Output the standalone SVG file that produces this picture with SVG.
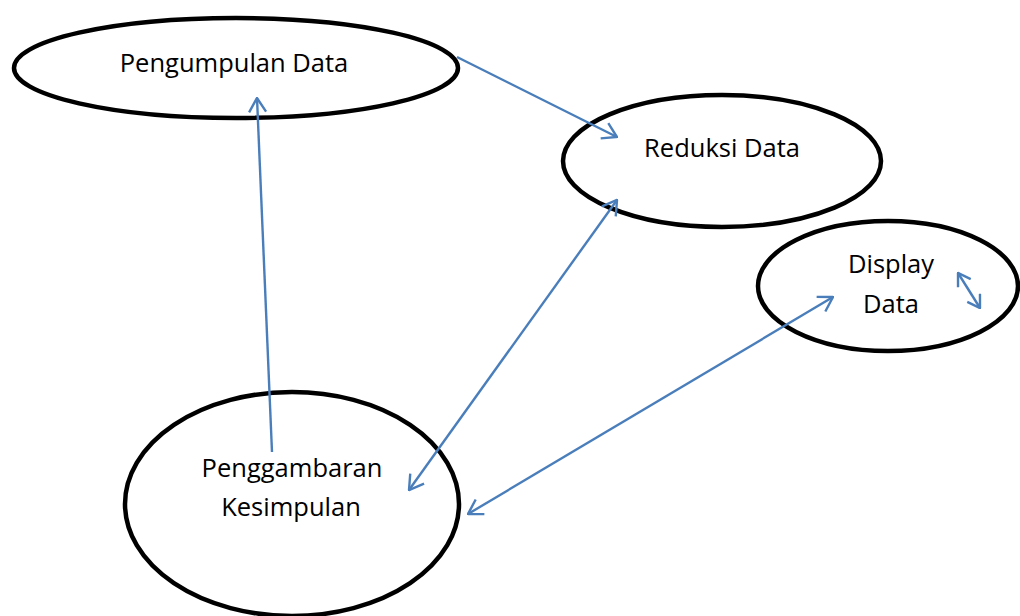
<svg xmlns="http://www.w3.org/2000/svg" width="1020" height="616" viewBox="0 0 1020 616">
<defs>
<style>
.node ellipse{fill:#ffffff;stroke:#000000;stroke-width:4.5}
.node text{font-family:"Open Sans","Liberation Sans",sans-serif;font-size:25.5px;fill:#000000;text-anchor:middle}
.conn line{stroke:#4a7ebb;stroke-width:2.4;fill:none}
.head{fill:none;stroke:#4a7ebb;stroke-width:2.4;stroke-linecap:butt;stroke-linejoin:miter}
</style>
<marker id="ah" viewBox="0 0 16 20" refX="15" refY="10" markerWidth="16" markerHeight="20" markerUnits="userSpaceOnUse" orient="auto-start-reverse">
<path class="head" d="M1,1.5 L15,10 L1,18.5"/>
</marker>
<marker id="ahs" viewBox="0 0 14 18" refX="13" refY="9" markerWidth="14" markerHeight="18" markerUnits="userSpaceOnUse" orient="auto-start-reverse">
<path class="head" d="M1,1.5 L13,9 L1,16.5"/>
</marker>
</defs>
<rect width="1020" height="616" fill="#ffffff"/>
<g id="pengumpulan" class="node">
<ellipse cx="236" cy="68" rx="222" ry="50"/>
<text x="234" y="72">Pengumpulan Data</text>
</g>
<g id="reduksi" class="node">
<ellipse cx="722" cy="161" rx="159" ry="66"/>
<text x="722" y="157">Reduksi Data</text>
</g>
<g id="display" class="node">
<ellipse cx="888" cy="286" rx="130" ry="65"/>
<text x="891" y="273">Display</text>
<text x="891" y="313">Data</text>
</g>
<g id="penggambaran" class="node">
<ellipse cx="292" cy="504" rx="167" ry="112"/>
<text x="292" y="477">Penggambaran</text>
<text x="291" y="516">Kesimpulan</text>
</g>
<g id="connectors" class="conn">
<line x1="457" y1="57" x2="617" y2="137" marker-end="url(#ah)"/>
<line x1="272" y1="452" x2="257" y2="98" marker-end="url(#ah)"/>
<line x1="409" y1="490" x2="617" y2="200" marker-start="url(#ah)" marker-end="url(#ah)"/>
<line x1="468" y1="514" x2="833" y2="297" marker-start="url(#ah)" marker-end="url(#ah)"/>
<line x1="958" y1="273" x2="980" y2="308" marker-start="url(#ahs)" marker-end="url(#ahs)"/>
</g>
</svg>
